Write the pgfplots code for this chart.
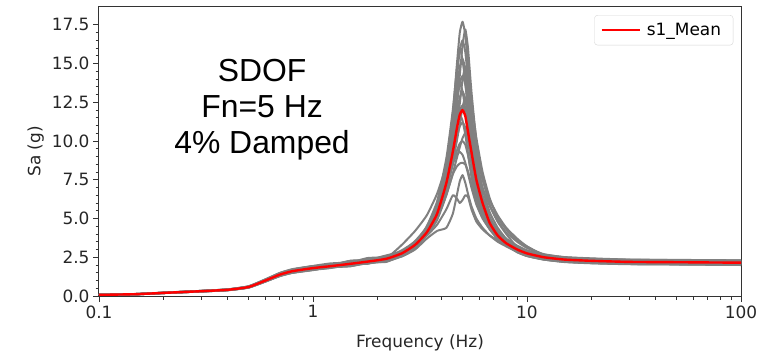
\documentclass[border=0pt]{standalone}
\usepackage{pgfplots}
\pgfplotsset{compat=1.18}
\usepackage{pgfplotstable}
\usepackage{fontspec}
\setmainfont{DejaVu Sans}
\newfontfamily\arialfont{Liberation Sans}
\definecolor{mgray}{RGB}{128,128,128}
\definecolor{lgd}{RGB}{214,214,214}
\pgfplotstableread{
f m g1 g2 g3 g4 g5 g6 g7 g8 g9 g10 g11 g12 g13 g14 g15 g16 g17 g18 g19
0.1 0.07 0.07 0.07 0.08 0.07 0.07 0.06 0.08 0.07 0.07 0.07 0.07 0.07 0.07 0.08 0.07 0.07 0.07 0.07 0.07
0.15 0.12 0.13 0.12 0.13 0.11 0.12 0.11 0.13 0.12 0.12 0.11 0.13 0.12 0.12 0.13 0.12 0.12 0.11 0.12 0.12
0.2 0.20 0.21 0.19 0.21 0.19 0.20 0.19 0.22 0.20 0.21 0.19 0.21 0.20 0.19 0.21 0.20 0.21 0.19 0.20 0.19
0.3 0.31 0.32 0.30 0.33 0.29 0.32 0.29 0.33 0.30 0.32 0.29 0.33 0.31 0.30 0.33 0.31 0.32 0.29 0.32 0.30
0.4 0.40 0.42 0.39 0.42 0.38 0.41 0.37 0.43 0.39 0.41 0.38 0.42 0.40 0.38 0.43 0.40 0.42 0.38 0.41 0.39
0.5 0.58 0.60 0.56 0.62 0.55 0.59 0.54 0.63 0.57 0.60 0.55 0.61 0.59 0.56 0.62 0.57 0.60 0.55 0.59 0.56
0.6 1.00 1.05 0.97 1.06 0.95 1.02 0.93 1.08 0.98 1.03 0.94 1.05 1.01 0.96 1.07 0.99 1.04 0.94 1.02 0.97
0.7 1.38 1.43 1.34 1.46 1.31 1.41 1.28 1.49 1.35 1.42 1.30 1.45 1.39 1.32 1.48 1.37 1.44 1.30 1.41 1.34
0.8 1.60 1.66 1.55 1.70 1.52 1.63 1.49 1.73 1.57 1.65 1.50 1.68 1.62 1.54 1.71 1.58 1.66 1.50 1.63 1.55
1.0 1.80 1.87 1.75 1.91 1.71 1.84 1.67 1.94 1.76 1.85 1.69 1.89 1.82 1.73 1.93 1.78 1.87 1.69 1.84 1.75
1.2 1.92 2.05 1.98 1.98 1.82 1.85 1.87 2.10 1.95 2.02 1.80 1.92 1.99 1.88 1.98 2.00 1.95 1.85 1.90 1.96
1.5 2.08 2.12 2.02 2.25 1.98 2.20 1.93 2.18 2.00 2.10 2.05 2.22 2.06 2.12 2.28 2.02 2.26 1.92 2.20 1.98
1.8 2.22 2.35 2.15 2.30 2.11 2.18 2.12 2.45 2.28 2.35 2.08 2.25 2.30 2.10 2.32 2.25 2.24 2.18 2.20 2.28
2.2 2.40 2.45 2.33 2.58 2.28 2.50 2.23 2.52 2.30 2.42 2.35 2.55 2.38 2.42 2.62 2.32 2.55 2.20 2.48 2.30
2.6 2.75 3.30 2.67 2.85 2.61 2.70 2.56 2.95 2.80 2.70 2.55 2.80 2.85 2.70 2.88 2.78 2.80 2.65 2.70 2.75
3.0 3.30 4.20 3.20 3.55 3.14 3.45 3.07 3.50 3.20 3.25 3.00 3.40 3.35 3.40 3.45 3.30 3.35 3.25 3.30 3.35
3.4 4.10 5.20 4.25 4.45 4.17 4.14 3.95 4.07 4.03 3.99 3.70 3.90 4.20 4.50 4.10 4.30 4.00 4.20 3.90 4.10
3.8 5.30 6.60 5.70 5.90 5.50 5.41 5.20 5.23 5.12 5.00 4.20 4.60 5.50 6.10 5.30 5.80 5.10 5.60 4.90 5.30
4.2 7.30 8.51 8.26 8.00 7.77 7.56 7.36 7.13 6.87 6.58 4.40 5.60 7.60 8.90 7.20 8.30 6.90 7.80 6.50 7.20
4.5 9.30 11.73 11.22 10.70 10.24 9.81 9.43 8.96 8.45 7.85 5.30 6.50 10.00 12.00 9.20 10.90 8.60 9.80 7.90 8.60
4.7 10.80 14.90 14.04 13.18 12.38 11.66 11.02 10.22 9.36 8.36 6.50 6.30 12.30 14.60 11.00 12.80 10.00 11.20 8.90 9.10
4.85 11.70 16.98 15.87 14.75 13.74 12.81 11.98 10.95 9.84 8.55 7.40 6.00 14.20 16.00 12.40 13.70 11.10 11.70 9.60 9.30
5.0 12.00 17.70 16.50 15.30 14.20 13.20 12.30 11.20 10.00 8.60 7.80 6.20 16.20 15.20 14.00 13.20 12.20 11.30 10.20 9.10
5.15 11.60 16.83 15.73 14.63 13.62 12.70 11.88 10.86 9.76 8.48 7.30 6.50 17.20 13.80 14.80 12.00 12.80 10.40 10.50 8.60
5.3 10.60 14.88 13.98 13.08 12.25 11.50 10.83 10.00 9.09 8.05 6.60 6.40 16.00 12.00 14.00 10.50 12.20 9.20 10.00 7.90
5.5 9.30 12.60 11.60 11.00 10.15 9.63 9.16 8.58 7.95 7.22 5.80 5.60 13.20 9.80 11.80 8.60 10.50 7.70 8.90 7.00
5.8 7.50 10.20 9.40 8.70 7.93 7.60 7.30 6.93 6.54 6.08 5.00 4.80 10.00 7.60 9.00 6.90 8.30 6.30 7.30 5.90
6.2 6.00 8.00 7.50 7.00 6.22 6.03 5.86 5.64 5.41 5.14 4.40 4.30 7.60 6.00 6.90 5.60 6.50 5.20 5.90 5.00
6.7 4.70 6.30 6.20 5.80 4.96 4.84 4.74 4.61 4.47 4.30 3.90 3.90 5.90 4.90 5.40 4.60 5.10 4.40 4.80 4.30
7.3 3.90 5.00 5.20 4.80 4.04 3.98 3.92 3.85 3.77 3.68 3.50 3.60 4.80 4.10 4.40 3.90 4.20 3.80 4.00 3.70
8.0 3.40 4.30 4.40 4.10 3.40 3.43 3.35 3.38 3.34 3.30 3.20 3.30 4.00 3.50 3.70 3.40 3.60 3.30 3.50 3.30
9.0 3.00 3.60 3.70 3.50 2.95 3.05 2.85 3.10 2.95 3.05 2.85 3.00 3.15 2.90 3.25 2.95 3.15 2.82 3.10 2.90
10 2.75 3.20 3.20 3.10 2.68 2.80 2.58 2.90 2.70 2.82 2.60 2.85 2.85 2.66 2.95 2.72 2.88 2.58 2.82 2.67
12 2.50 2.65 2.60 2.70 2.40 2.55 2.35 2.62 2.45 2.57 2.36 2.60 2.55 2.41 2.67 2.47 2.60 2.35 2.55 2.43
15 2.35 2.45 2.38 2.50 2.24 2.40 2.19 2.48 2.30 2.42 2.21 2.46 2.37 2.26 2.51 2.33 2.44 2.21 2.40 2.28
20 2.27 2.36 2.25 2.40 2.16 2.32 2.11 2.40 2.22 2.34 2.13 2.38 2.29 2.18 2.43 2.25 2.36 2.13 2.32 2.20
30 2.20 2.29 2.16 2.33 2.09 2.24 2.05 2.34 2.16 2.27 2.07 2.31 2.22 2.11 2.35 2.18 2.29 2.07 2.24 2.13
50 2.18 2.27 2.13 2.31 2.07 2.22 2.03 2.32 2.14 2.25 2.05 2.29 2.20 2.09 2.33 2.16 2.27 2.05 2.22 2.11
100 2.15 2.24 2.10 2.28 2.04 2.19 2.00 2.30 2.11 2.22 2.02 2.26 2.17 2.06 2.30 2.13 2.24 2.02 2.19 2.09
}\datatable
\begin{document}
\begin{tikzpicture}
\begin{axis}[
  scale only axis,
  width=642bp, height=289bp,
  xmode=log,
  xmin=0.1, xmax=100,
  ymin=0, ymax=18.65,
  xtick={0.1,1,10,100},
  xticklabels={0.1,1,10,100},
  ytick={0,2.5,...,17.5},
  minor y tick num=4,
  yticklabel style={/pgf/number format/.cd,fixed,fixed zerofill,precision=1,assume math mode=true},
  tick label style={font=\fontsize{17}{20}\selectfont, black!85},
  label style={font=\fontsize{17}{20}\selectfont, black!85},
  xlabel={Frequency (Hz)},
  ylabel={Sa (g)},
  xlabel style={yshift=-9bp},
  ylabel style={yshift=1bp},
  tick align=outside,
  xtick pos=bottom, ytick pos=left,
  major tick length=6bp,
  minor tick length=3.5bp,
  every tick/.style={black!80, line width=0.8bp},
  axis line style={black!80, line width=1bp},
  legend style={at={(0.988,0.972)}, anchor=north east, draw=lgd, rounded corners=3bp,
    font=\fontsize{17}{20}\selectfont, inner xsep=6bp, inner ysep=6bp, fill=white,
    nodes={inner xsep=6bp}},
  legend cell align=left,
  legend image code/.code={\draw[#1] (0bp,0bp) -- (38bp,0bp);},
]
\pgfplotsinvokeforeach{1,...,19}{
  \addplot[mgray, line width=2bp, line join=round, smooth, tension=0.3, forget plot] table[x=f, y=g#1]{\datatable};
}
\addplot[red, line width=2.4bp, line join=round, smooth, tension=0.3] table[x=f, y=m]{\datatable};
\addlegendentry{s1\_Mean}
\node[font=\arialfont\fontsize{32}{36}\selectfont, align=center, text=black]
  at (rel axis cs:0.254,0.644) {SDOF\\Fn=5 Hz\\4\% Damped};
\end{axis}
\pgfresetboundingbox
\path (current axis.south west) ++(-99bp,-57bp) rectangle ++(765bp,353bp);
\end{tikzpicture}
\end{document}
